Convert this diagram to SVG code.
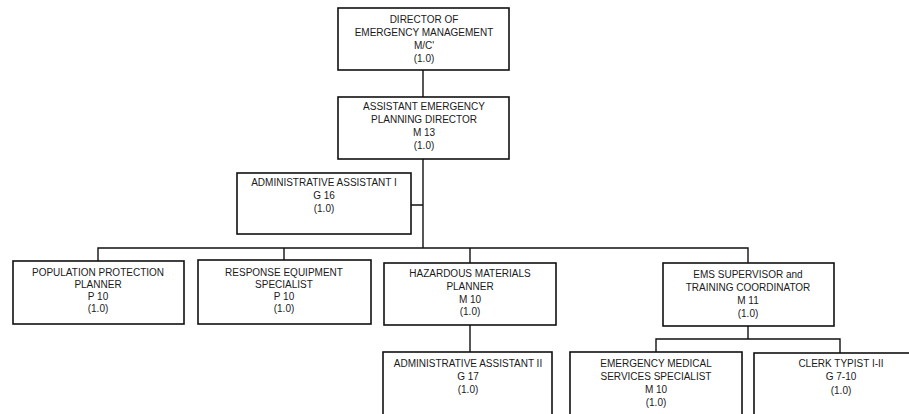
<svg xmlns="http://www.w3.org/2000/svg" width="909" height="414" viewBox="0 0 909 414">
<style>
.box{fill:#fff;stroke:#111;stroke-width:1.6}
.ln{fill:none;stroke:#111;stroke-width:1.4}
text{font-family:"Liberation Sans",Arial,sans-serif;font-size:10px;fill:#1a1a1a;text-anchor:middle}
</style>
<rect width="909" height="414" fill="#fff"/>
<g id="connectors">
<path class="ln" d="M423,70 V97 M423,159 V248 M411,205 H423"/>
<path class="ln" d="M98,261 V248 H748 V263 M284,248 V260 M470,248 V263"/>
<path class="ln" d="M470,325 V352"/>
<path class="ln" d="M748,326 V339 M656,352 V339 H840 V353"/>
</g>
<g id="director">
<rect class="box" x="338" y="8" width="171" height="62"/>
<text x="424" y="23">DIRECTOR OF</text>
<text x="424" y="36">EMERGENCY MANAGEMENT</text>
<text x="424" y="49">M/C'</text>
<text x="424" y="62">(1.0)</text>
</g>
<g id="assistant-director">
<rect class="box" x="338" y="97" width="171" height="62"/>
<text x="424" y="110">ASSISTANT EMERGENCY</text>
<text x="424" y="123">PLANNING DIRECTOR</text>
<text x="424" y="136">M 13</text>
<text x="424" y="149">(1.0)</text>
</g>
<g id="admin-assistant-1">
<rect class="box" x="237" y="173" width="174" height="61"/>
<text x="324" y="186">ADMINISTRATIVE ASSISTANT I</text>
<text x="324" y="199">G 16</text>
<text x="324" y="212">(1.0)</text>
</g>
<g id="population-protection">
<rect class="box" x="13" y="261" width="171" height="63"/>
<text x="98" y="276">POPULATION PROTECTION</text>
<text x="98" y="288">PLANNER</text>
<text x="98" y="300">P 10</text>
<text x="98" y="312">(1.0)</text>
</g>
<g id="response-equipment">
<rect class="box" x="198" y="260" width="173" height="64"/>
<text x="284" y="276">RESPONSE EQUIPMENT</text>
<text x="284" y="288">SPECIALIST</text>
<text x="284" y="300">P 10</text>
<text x="284" y="312">(1.0)</text>
</g>
<g id="hazardous-materials">
<rect class="box" x="384" y="263" width="172" height="62"/>
<text x="470" y="277">HAZARDOUS MATERIALS</text>
<text x="470" y="290">PLANNER</text>
<text x="470" y="303">M 10</text>
<text x="470" y="315">(1.0)</text>
</g>
<g id="ems-supervisor">
<rect class="box" x="663" y="263" width="171" height="63"/>
<text x="748" y="278">EMS SUPERVISOR and</text>
<text x="748" y="291">TRAINING COORDINATOR</text>
<text x="748" y="304">M 11</text>
<text x="748" y="317">(1.0)</text>
</g>
<g id="admin-assistant-2">
<rect class="box" x="383" y="352" width="169" height="70"/>
<text x="468" y="367">ADMINISTRATIVE ASSISTANT II</text>
<text x="468" y="380">G 17</text>
<text x="468" y="393">(1.0)</text>
</g>
<g id="ems-specialist">
<rect class="box" x="570" y="352" width="172" height="70"/>
<text x="656" y="367">EMERGENCY MEDICAL</text>
<text x="656" y="380">SERVICES SPECIALIST</text>
<text x="656" y="393">M 10</text>
<text x="656" y="406">(1.0)</text>
</g>
<g id="clerk-typist">
<rect class="box" x="754" y="353" width="172" height="70"/>
<text x="841" y="367">CLERK TYPIST I-II</text>
<text x="841" y="380">G 7-10</text>
<text x="841" y="394">(1.0)</text>
</g>
</svg>
